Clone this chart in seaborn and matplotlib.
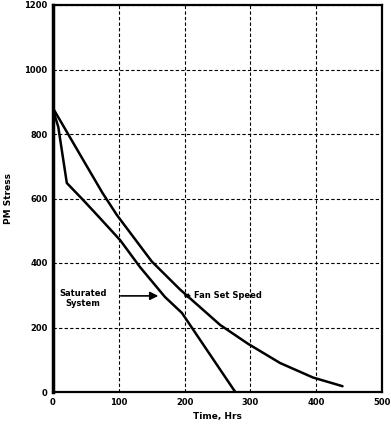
import matplotlib
matplotlib.use("Agg")
import matplotlib.pyplot as plt
import seaborn as sns
import pandas as pd

# Data
upper_x = [0, 10, 30, 50, 75, 97, 150, 193, 254, 296, 345, 395, 440]
upper_y = [880, 845, 775, 705, 618, 549, 405, 318, 208, 150, 90, 45, 18]
lower_x = [0, 8, 21, 46, 71, 102, 132, 170, 196, 234, 277]
lower_y = [875, 822, 648, 595, 540, 471, 388, 295, 245, 130, 0]
x_ticks = [0, 100, 200, 300, 400, 500]
y_ticks = [0, 200, 400, 600, 800, 1000, 1200]
x_label = "Time, Hrs"
y_label = "PM Stress"
left_note = "Saturated\nSystem"
right_note = "Fan Set Speed"

df = pd.concat([
    pd.DataFrame({"t": upper_x, "s": upper_y, "curve": "upper"}),
    pd.DataFrame({"t": lower_x, "s": lower_y, "curve": "lower"}),
])

sns.set_theme(style="white")
plt.rcParams["font.family"] = ["DejaVu Sans"]
plt.rcParams["text.color"] = "black"
plt.rcParams["axes.labelcolor"] = "black"
plt.rcParams["xtick.color"] = "black"
plt.rcParams["ytick.color"] = "black"

fig = plt.figure(figsize=(3.91, 4.25), dpi=100)
ax = fig.add_axes([53 / 391, 1 - 392 / 425, (382 - 53) / 391, (392 - 5) / 425])

sns.lineplot(data=df, x="t", y="s", hue="curve", palette={"upper": "black", "lower": "black"},
             sort=False, estimator=None, linewidth=1.8, legend=False, ax=ax)

ax.set_xlim(0, 500)
ax.set_ylim(0, 1200)
ax.set_xticks(x_ticks)
ax.set_yticks(y_ticks)
ax.set_xticklabels([str(v) for v in x_ticks], fontsize=6, fontweight="bold")
ax.set_yticklabels([str(v) for v in y_ticks], fontsize=6, fontweight="bold")
ax.tick_params(axis="both", length=0, pad=4, labelcolor="black")
ax.grid(True, color="black", linestyle=(0, (3, 2)), linewidth=0.8)
for sp in ax.spines.values():
    sp.set_color("black")
    sp.set_linewidth(1.6)
ax.spines["left"].set_linewidth(2.5)

ax.set_xlabel(x_label, fontsize=6.5, fontweight="bold", labelpad=4, color="black")
ax.set_ylabel(y_label, fontsize=6.5, fontweight="bold", labelpad=8, color="black")

ax.text(46, 320, left_note, fontsize=6, fontweight="bold", va="top", ha="center",
        multialignment="center", color="black")
ax.annotate("", xy=(160, 298), xytext=(103, 298),
            arrowprops=dict(arrowstyle="-|>", color="black", lw=1.2, shrinkA=0, shrinkB=0))
ax.annotate(right_note, xy=(198, 298), xytext=(215, 298), fontsize=6, fontweight="bold",
            va="center", ha="left", color="black",
            arrowprops=dict(arrowstyle="-|>", color="black", lw=1.2, shrinkA=1, shrinkB=0))

fig.savefig("out.png", dpi=100)
